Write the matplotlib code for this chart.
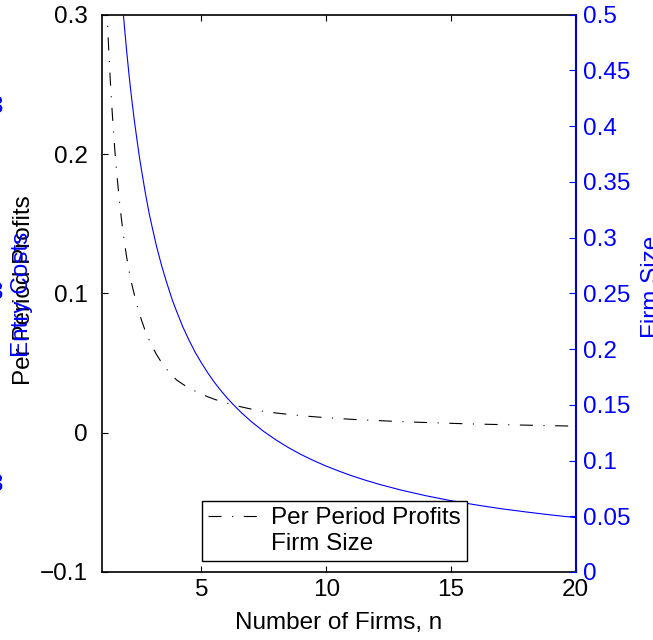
import numpy as np
import matplotlib
matplotlib.use('Agg')
import matplotlib.pyplot as plt
from matplotlib.lines import Line2D

plt.rcParams['font.family'] = ['Liberation Sans', 'DejaVu Sans']
plt.rcParams['lines.scale_dashes'] = False
fs = 17.5

# per period profits (left axis)
n_profit = [1.20, 1.22, 1.25, 1.30, 1.35, 1.40, 1.45, 1.53, 1.60, 1.70, 1.80, 1.90, 2.00,
            2.10, 2.20, 2.31, 2.40, 2.50, 2.60, 2.74, 2.85, 3.00, 3.20, 3.40, 3.55, 3.70,
            3.85, 4.00, 4.25, 4.50, 4.75, 5.00, 5.25, 5.50, 5.75, 6.00, 6.30, 6.60, 7.00,
            7.48, 8.00, 8.50, 9.00, 9.60, 10.3, 11.0, 11.5, 12.8, 13.5, 14.0, 15.2,
            16.0, 17.0, 18.5, 20.0]
profit = [0.309, 0.300, 0.287, 0.268, 0.251, 0.236, 0.222, 0.202, 0.187, 0.168, 0.152, 0.138, 0.126,
          0.116, 0.107, 0.099, 0.0926, 0.0862, 0.0805, 0.0734, 0.0686, 0.0627, 0.0560, 0.0503, 0.0467, 0.0434,
          0.0405, 0.0379, 0.0348, 0.0321, 0.0298, 0.0277, 0.0258, 0.0241, 0.0226, 0.0213, 0.0198, 0.0185, 0.0169,
          0.0153, 0.0141, 0.0131, 0.0122, 0.0113, 0.0104, 0.0096, 0.0091, 0.0081, 0.0076, 0.0073, 0.0066,
          0.0062, 0.0058, 0.0052, 0.0047]

# firm size (right axis)
n_size = [1.80, 1.84, 1.90, 2.00, 2.10, 2.20, 2.30, 2.40, 2.51, 2.60, 2.75, 2.90, 3.00,
          3.20, 3.40, 3.60, 3.83, 4.00, 4.25, 4.50, 4.75, 5.00, 5.25, 5.50, 5.75, 6.00,
          6.27, 6.60, 7.00, 7.50, 8.00, 8.50, 9.00, 9.50, 10.0, 10.5, 11.0, 11.55, 12.15,
          13.0, 14.0, 15.0, 16.0, 17.0, 18.0, 19.0, 20.0]
size = [0.519, 0.508, 0.492, 0.4675, 0.445, 0.425, 0.4065, 0.390, 0.3725, 0.360, 0.340, 0.322, 0.3117,
        0.292, 0.275, 0.260, 0.244, 0.234, 0.220, 0.208, 0.197, 0.1875, 0.1787, 0.1707, 0.1635, 0.1568,
        0.1503, 0.1429, 0.1349, 0.1260, 0.1183, 0.1114, 0.1053, 0.0999, 0.0950, 0.0906, 0.0865, 0.0825, 0.0785,
        0.0735, 0.0684, 0.0640, 0.0602, 0.0568, 0.0539, 0.0512, 0.0488]

left_ticks = [-0.1, 0, 0.1, 0.2, 0.3]
left_labels = ['\u22120.1', '0', '0.1', '0.2', '0.3']
right_ticks = [0, 0.05, 0.1, 0.15, 0.2, 0.25, 0.3, 0.35, 0.4, 0.45, 0.5]
right_labels = ['0', '0.05', '0.1', '0.15', '0.2', '0.25', '0.3', '0.35', '0.4', '0.45', '0.5']
x_ticks = [5, 10, 15, 20]

dashdot = (9.4, 7.6, 0.8, 7.6)

W, H = 653, 640
fig = plt.figure(figsize=(W / 100, H / 100), dpi=100)
ax = fig.add_axes([101.7 / W, 1 - 572 / H, 474 / W, 557.3 / H])

ax.plot(n_profit, profit, color='k', lw=0.8, dashes=dashdot)
ax.set_xlim(1, 20)
ax.set_ylim(-0.1, 0.3)
ax.set_xticks(x_ticks)
ax.set_xticklabels([str(t) for t in x_ticks], fontsize=fs)
ax.set_yticks(left_ticks)
ax.set_yticklabels(left_labels, fontsize=fs)
ax.tick_params(axis='x', direction='in', length=4, width=0.8, top=True, pad=5)
ax.tick_params(axis='y', direction='in', length=4, width=0.8, pad=10)
ax.spines['right'].set_visible(False)
for s in ['left', 'top', 'bottom']:
    ax.spines[s].set_linewidth(1.2)

ax2 = ax.twinx()
ax2.plot(n_size, size, color='#0000ff', lw=0.8)
ax2.set_ylim(0, 0.5)
ax2.set_yticks(right_ticks)
ax2.set_yticklabels(right_labels, fontsize=fs, color='#0000ff')
ax2.tick_params(axis='y', direction='in', length=5, width=0.8, colors='#0000ff', pad=5)
for s in ['left', 'top', 'bottom']:
    ax2.spines[s].set_visible(False)
ax2.spines['right'].set_color('#0000cc')
ax2.spines['right'].set_linewidth(1.5)

ax.set_xlabel('Number of Firms, n', fontsize=fs, labelpad=8)

# overlapping y labels as in the original
fig.text(24 / W, 1 - 290 / H, 'Per Period Profits', rotation=90, fontsize=fs,
         ha='center', va='center', color='k')
fig.text(22 / W, 1 - 294 / H, 'Entry Costs', rotation=90, fontsize=fs,
         ha='center', va='center', color='#0000ff')
fig.text(652 / W, 1 - 287 / H, 'Firm Size', rotation=90, fontsize=fs,
         ha='center', va='center', color='#0000ff')

# clipped tick labels of a hidden axis at the far left
for yy in [107, 293, 485]:
    fig.text(3 / W, 1 - yy / H, '3', fontsize=fs, ha='right', va='center', color='#0000ff')

handles = [Line2D([], [], color='k', lw=0.8, dashes=dashdot),
           Line2D([], [], color='none', lw=0.8)]
leg = ax2.legend(handles, ['Per Period Profits', 'Firm Size'], loc='lower left',
                 bbox_to_anchor=(0.212, 0.0197), fontsize=fs, frameon=True,
                 fancybox=False, framealpha=1, edgecolor='k', borderpad=0.25,
                 labelspacing=0.15, handlelength=2.2, handletextpad=0.4,
                 borderaxespad=0)
leg.get_frame().set_linewidth(1.0)

fig.savefig('out.png', dpi=100)
